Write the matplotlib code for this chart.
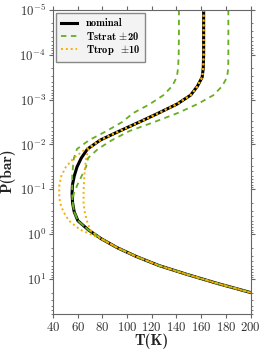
import matplotlib
matplotlib.use('Agg')
import matplotlib.pyplot as plt
import numpy as np

# log10 of pressure (bar) levels where temperatures were read
logp = [-5, -4.5, -4, -3.7, -3.5, -3.3, -3.1, -2.9, -2.7, -2.5,
        -2.3, -2.1, -1.9, -1.7, -1.5, -1.3, -1.1, -0.9, -0.7, -0.5,
        -0.3, -0.1, 0.1, 0.3, 0.5, 0.7, 0.9, 1.1, 1.3, 1.5]

t_nom = [162, 162, 162, 161.7, 160.8, 157, 151.5, 140.5, 125.5, 110,
         94, 78.5, 68, 63, 59.5, 57.3, 55.8, 55.5, 55.9, 57.2,
         60.2, 68.5, 79, 92, 107.7, 126, 149, 173.5, 200, 228]

t_strat_lo = [142, 142, 141.8, 141.3, 140.3, 136.5, 129.5, 118.5, 105, 96,
              83.5, 69.5, 59.5, 57, 56.2, 55.6, 55.6, 55.5, 55.9, 57.2,
              60.2, 68.5, 79, 92, 107.7, 126, 149, 173.5, 200, 228]

t_strat_hi = [182, 182, 182, 181.9, 181, 177, 170, 157, 141, 122,
              102, 88, 76.5, 68.5, 66.8, 63.3, 59.8, 56.8, 56, 57.2,
              60.2, 68.5, 79, 92, 107.7, 126, 149, 173.5, 200, 228]

t_trop_lo = [162, 162, 162, 161.7, 160.8, 157, 151.5, 140.5, 125.5, 110,
             94, 78.5, 66.5, 57, 50.5, 46.8, 45.2, 45, 45.7, 48.5,
             53, 62, 79, 92, 107.7, 126, 149, 173.5, 200, 228]

t_trop_hi = [162, 162, 162, 161.7, 160.8, 157, 151.5, 140.5, 125.5, 110,
             94, 78.5, 68.8, 67, 66, 65.5, 65, 64.8, 64.8, 65.7,
             67.5, 70, 79, 92, 107.7, 126, 149, 173.5, 200, 228]

plt.rcParams['font.family'] = 'cmr10'
plt.rcParams['mathtext.fontset'] = 'cm'
plt.rcParams['axes.formatter.use_mathtext'] = True

p = 10**np.array(logp)
green = '#68ad22'
orange = '#f2b000'

fig = plt.figure(figsize=(2.66, 3.52), dpi=100)
ax = fig.add_axes([0.199, 0.108, 0.743, 0.864])

ax.plot(t_nom, p, color='black', lw=2.2, label='nominal')
ax.plot(t_strat_lo, p, color=green, lw=1.3, ls=(0, (3, 2.5)), label=r'Tstrat $\pm$20')
ax.plot(t_strat_hi, p, color=green, lw=1.3, ls=(0, (3, 2.5)))
ax.plot(t_trop_lo, p, color=orange, lw=1.4, ls=(0, (1, 1.5)), label=r'Ttrop  $\pm$10')
ax.plot(t_trop_hi, p, color=orange, lw=1.4, ls=(0, (1, 1.5)))

ax.set_yscale('log')
ax.set_ylim(60, 1e-5)
ax.set_xlim(40, 200)
ax.set_xticks([40, 60, 80, 100, 120, 140, 160, 180, 200])

for s in ax.spines.values():
    s.set_color('#666666')
ax.tick_params(which='both', direction='out', top=True, right=True,
               colors='#666666', labelcolor='#333333', labelsize=9.2, pad=2)
ax.tick_params(which='major', length=3)
ax.tick_params(which='minor', length=1.5)
for lab in ax.get_yticklabels():
    lab.set_verticalalignment('center_baseline')

ax.set_xlabel('T(K)', fontfamily='cmb10', fontsize=11, color='#222222', labelpad=0)
ax.set_ylabel('P(bar)', fontfamily='cmb10', fontsize=11, color='#222222')
ax.yaxis.set_label_coords(-0.19, 0.47)

leg = ax.legend(loc='upper left', prop={'family': 'cmb10', 'size': 7.6},
                handlelength=1.5, handletextpad=0.8, fancybox=False, framealpha=1,
                borderpad=0.5, labelspacing=0.12, borderaxespad=0.3)
leg.get_frame().set_facecolor('#f3f3f3')
leg.get_frame().set_edgecolor('#888888')

fig.savefig('out.png', dpi=100)
